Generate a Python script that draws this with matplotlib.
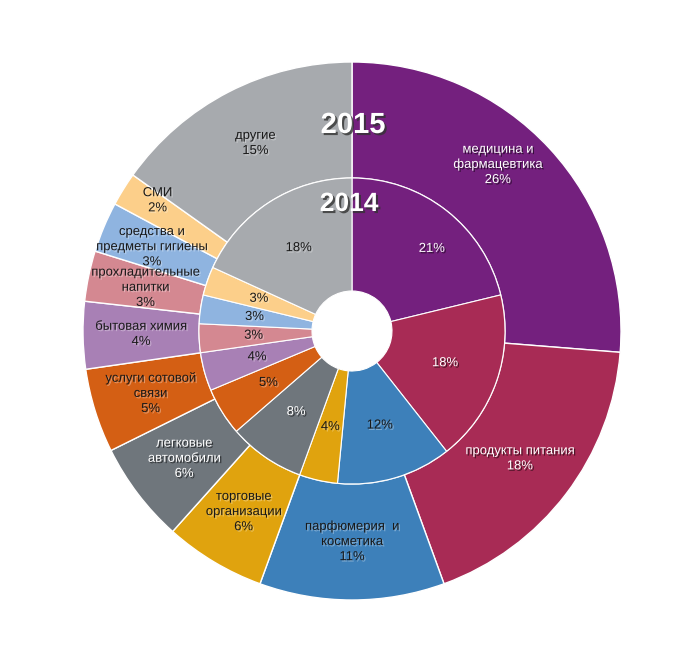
import numpy as np
import matplotlib.pyplot as plt
import matplotlib.patheffects as pe

# ---------------------------------------------------------
# Data (clockwise from 12 o'clock)
# ---------------------------------------------------------

categories = ['медицина и\nфармацевтика', 'продукты питания', 'парфюмерия  и\nкосметика',
              'торговые\nорганизации', 'легковые\nавтомобили', 'услуги сотовой\nсвязи',
              'бытовая химия', 'прохладительные\nнапитки', 'средства и\nпредметы гигиены',
              'СМИ', 'другие']
share_2015 = [26, 18, 11, 6, 6, 5, 4, 3, 3, 2, 15]
share_2014 = [21, 18, 12, 4, 8, 5, 4, 3, 3, 3, 18]

colors = ['#74207E', '#A82B55', '#3D80BA', '#E0A30E', '#6F767C', '#D45F14',
          '#A880B5', '#D48891', '#8FB4E0', '#FCCF8A', '#A7AAAE']
# labels drawn in white on the dark wedges
white_text = [True, True, False, False, True, False, False, False, False, False, False]

# small manual nudges of label angle (deg) / radius, like the original
outer_nudge = {0: (-6, 10), 8: (0, 6), 9: (2, 23)}
inner_nudge = {0: (6, 16)}

R_OUT = 269
R_MID = 153
R_HOLE = 40

# ---------------------------------------------------------
# Figure: 1 data unit = 1 pixel, centre of the rings at (352, 331)
# ---------------------------------------------------------

fig = plt.figure(figsize=(7, 6.68), dpi=100)
ax = fig.add_axes([0, 0, 1, 1])

ax.pie(share_2015, radius=R_OUT, colors=colors, startangle=90, counterclock=False,
       wedgeprops=dict(width=R_OUT - R_MID, edgecolor='white', linewidth=1))
ax.pie(share_2014, radius=R_MID, colors=colors, startangle=90, counterclock=False,
       wedgeprops=dict(width=R_MID - R_HOLE, edgecolor='white', linewidth=0.8))

ax.set_xlim(-352, 700 - 352)
ax.set_ylim(-(668 - 331), 331)
ax.axis('off')

font = 'Liberation Sans'
shadow_dark = [pe.withSimplePatchShadow(offset=(1, -1), shadow_rgbFace='black', alpha=0.55)]
shadow_light = [pe.withSimplePatchShadow(offset=(1, -1), shadow_rgbFace='white', alpha=0.35)]


def put_labels(values, r_label, nudge, with_name):
    total = float(sum(values))
    start = 0.0
    for i, v in enumerate(values):
        mid = (start + v / 2.0) / total * 360.0
        start += v
        d_ang, d_r = nudge.get(i, (0, 0))
        ang = np.radians(mid + d_ang)
        r = r_label + d_r
        x = r * np.sin(ang)
        y = r * np.cos(ang)
        txt = str(v) + '%'
        if with_name:
            txt = categories[i] + '\n' + txt
        if white_text[i]:
            col, eff = 'white', shadow_dark
        else:
            col, eff = '#1a1a1a', shadow_light
        ax.text(x, y, txt, ha='center', va='center', fontsize=9.4, color=col,
                family=font, linespacing=1.35, path_effects=eff)


put_labels(share_2015, (R_OUT + R_MID) / 2.0, outer_nudge, True)
put_labels(share_2014, (R_MID + R_HOLE) / 2.0 + 2, inner_nudge, False)

# Year titles
title_fx = [pe.withSimplePatchShadow(offset=(1.5, -1.5), shadow_rgbFace='#333333', alpha=0.8)]
ax.text(1, 206, '2015', ha='center', va='center', fontsize=21, weight='bold',
        color='white', family=font, path_effects=title_fx)
ax.text(-3, 127, '2014', ha='center', va='center', fontsize=19, weight='bold',
        color='white', family=font, path_effects=title_fx)

plt.savefig('out.png', dpi=100)
